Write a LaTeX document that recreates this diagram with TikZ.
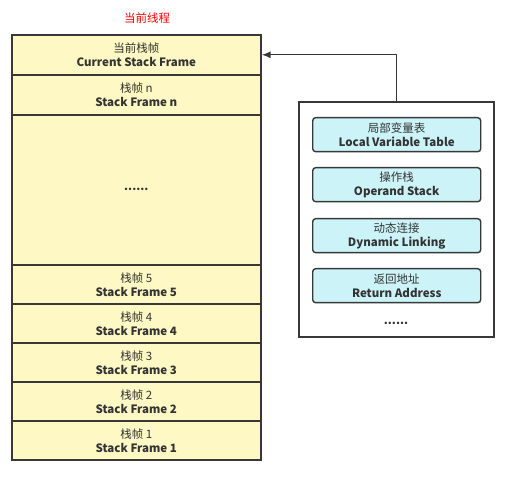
\documentclass[tikz,border=0pt]{standalone}
\usepackage{fontspec}
\usetikzlibrary{arrows.meta}
\setmainfont{Noto Sans CJK SC}
\definecolor{frameyellow}{HTML}{FDF8C4}
\definecolor{partcyan}{HTML}{CCF4F8}
\definecolor{edge}{HTML}{383838}
\definecolor{txt}{HTML}{333333}
\begin{document}
\begin{tikzpicture}[x=1pt,y=-1pt,
  frame/.style={draw=edge,line width=1.6pt,fill=frameyellow,minimum width=249pt,anchor=north west,inner sep=0pt,align=center,font=\fontsize{11.5}{14}\selectfont,text=txt},
  part/.style={draw=edge,line width=1.4pt,fill=partcyan,rounded corners=3pt,minimum width=168pt,minimum height=34pt,anchor=north west,inner sep=0pt,align=center,font=\fontsize{11.5}{14}\selectfont,text=txt}]
\useasboundingbox (0,0) rectangle (506,486);
\node[text=red,font=\fontsize{11.5}{14}\selectfont] (title) at (147,18) {当前线程};
\node[frame,minimum height=40pt] (cur) at (11,34) {当前栈帧\\\textbf{Current Stack Frame}};
\node[frame,minimum height=40pt] (fn) at (11,74) {栈帧 n\\\textbf{Stack Frame n}};
\node[frame,minimum height=150pt] (dots) at (11,114) {\textbf{......}};
\node[frame,minimum height=39pt] (f5) at (11,264) {栈帧 5\\\textbf{Stack Frame 5}};
\node[frame,minimum height=39pt] (f4) at (11,303) {栈帧 4\\\textbf{Stack Frame 4}};
\node[frame,minimum height=39pt] (f3) at (11,342) {栈帧 3\\\textbf{Stack Frame 3}};
\node[frame,minimum height=39pt] (f2) at (11,381) {栈帧 2\\\textbf{Stack Frame 2}};
\node[frame,minimum height=39pt] (f1) at (11,420) {栈帧 1\\\textbf{Stack Frame 1}};
\node[draw=edge,line width=1.6pt,fill=white,minimum width=195pt,minimum height=235pt,anchor=north west,inner sep=0pt] (box) at (298,101) {};
\node[part] (lvt) at (312,117) {局部变量表\\\textbf{Local Variable Table}};
\node[part] (ops) at (312,167) {操作栈\\\textbf{Operand Stack}};
\node[part] (dyn) at (312,218) {动态连接\\\textbf{Dynamic Linking}};
\node[part] (ret) at (312,268) {返回地址\\\textbf{Return Address}};
\node[font=\fontsize{11.5}{14}\selectfont\bfseries,text=txt] (more) at (396,323) {......};
\draw[line width=1.4pt,edge,-{Latex[length=9pt,width=7pt]}] (box.north) |- (cur.east);
\end{tikzpicture}
\end{document}
